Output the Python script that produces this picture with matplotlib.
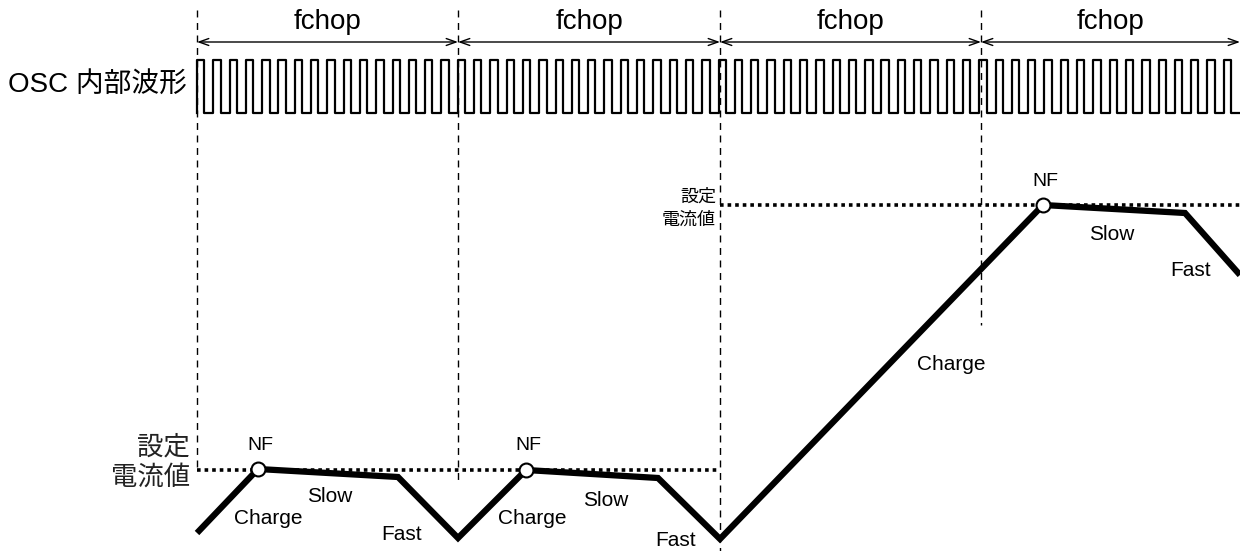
import matplotlib
matplotlib.use("Agg")
import matplotlib.pyplot as plt
import numpy as np

# ---- data (diagram coordinates in a 1240 x 551 canvas, y downward) ----
chop_bounds = [197, 458, 720, 981, 1240]
chop_label = "fchop"
dash_bottoms = [470, 482, 551, 325]
pulses_per_chop = 16
osc_high, osc_low = 60, 113
osc_duty = 0.45

current_x = [197, 258, 398, 458, 526, 658, 720, 1043, 1185, 1240]
current_y = [533, 469, 477, 538, 470, 478, 539, 205, 213, 275]
nf_index = [1, 4, 7]

set_lo = (197, 720, 470)
set_hi = (720, 1240, 205)

charge_labels = [(268, 519), (532, 519), (951, 364)]
slow_labels = [(330, 497), (606, 500), (1112, 235)]
fast_labels = [(402, 535), (676, 540), (1191, 270)]

LAT = ["Liberation Sans", "Noto Sans CJK JP"]
CJK = ["Noto Sans CJK JP", "Liberation Sans"]

fig = plt.figure(figsize=(12.4, 5.51), dpi=100)
ax = fig.add_axes([0, 0, 1, 1])
ax.set_xlim(0, 1240)
ax.set_ylim(551, 0)
ax.axis("off")

# vertical dashed chop boundaries
for x, yb in zip(chop_bounds[:-1], dash_bottoms):
    ax.plot([x, x], [10, yb], color="black", lw=1, ls=(0, (5, 4)))

# fchop arrows + labels
for a, b in zip(chop_bounds[:-1], chop_bounds[1:]):
    ax.annotate("", xy=(b, 42), xytext=(a, 42),
                arrowprops=dict(arrowstyle="<->,head_length=0.7,head_width=0.25",
                                lw=1, color="black", shrinkA=0, shrinkB=0))
    ax.text((a + b) / 2, 22, chop_label, ha="center", va="center",
            fontsize=20, family=LAT)

# OSC square wave
n_total = pulses_per_chop * (len(chop_bounds) - 1)
period = (chop_bounds[-1] - chop_bounds[0]) / n_total
xs, ys = [], []
for i in range(n_total):
    x0 = chop_bounds[0] + i * period
    x1 = x0 + osc_duty * period
    x2 = x0 + period
    xs += [x0, x0, x1, x1, x2]
    ys += [osc_low, osc_high, osc_high, osc_low, osc_low]
ax.plot(xs, ys, color="black", lw=1.6, solid_joinstyle="round")
ax.text(187, 85, "OSC 内部波形", ha="right", va="center", fontsize=20, family=LAT)

# set current dotted lines
for x0, x1, y in (set_lo, set_hi):
    ax.plot([x0, x1], [y, y], color="black", lw=2.6, ls=(0, (1, 1.1)),
            dash_capstyle="butt")

# set-current labels
ax.text(190, 462, "設定\n電流値", ha="right", va="center", fontsize=19,
        family=CJK, linespacing=1.15, color="#222222")
ax.text(716, 208, "設定\n電流値", ha="right", va="center", fontsize=13,
        family=CJK, linespacing=1.35)

# current waveform
ax.plot(current_x, current_y, color="black", lw=4.5, solid_joinstyle="miter",
        solid_capstyle="butt", zorder=3)
ax.plot([current_x[i] for i in nf_index], [current_y[i] for i in nf_index],
        "o", ms=10, mfc="white", mec="black", mew=1.5, zorder=4)
for i in nf_index:
    ax.text(current_x[i] + 2, current_y[i] - 24, "NF", ha="center", va="center",
            fontsize=14, family=LAT)

for lst, s in ((charge_labels, "Charge"), (slow_labels, "Slow"), (fast_labels, "Fast")):
    for x, y in lst:
        ax.text(x, y, s, ha="center", va="center", fontsize=15, family=LAT)

fig.savefig("out.png", dpi=100)
